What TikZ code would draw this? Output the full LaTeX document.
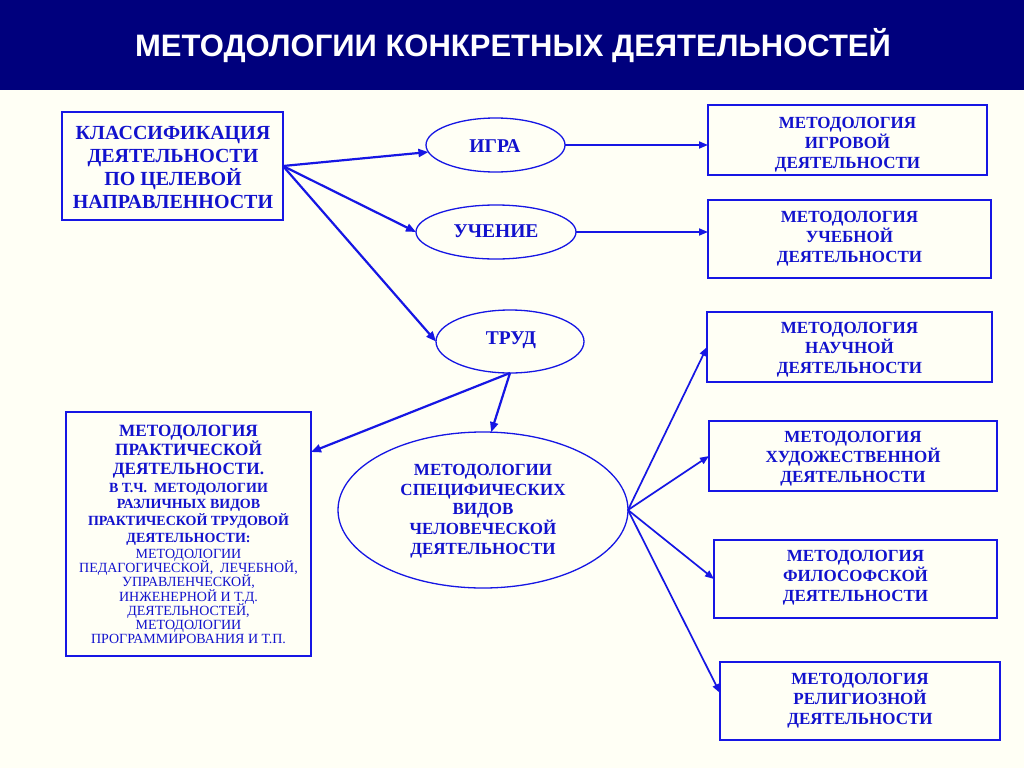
\documentclass[tikz,border=0pt]{standalone}
\usepackage{fontspec}
\setmainfont{Liberation Serif}
\newfontfamily\titlefont{Liberation Sans}
\usetikzlibrary{shapes.geometric,arrows.meta,calc}
\definecolor{bg}{RGB}{255,255,245}
\definecolor{navy}{RGB}{0,0,125}
\definecolor{lineblue}{RGB}{22,22,228}
\definecolor{textblue}{RGB}{18,18,205}
\begin{document}
\lineskiplimit=-100pt
\begin{tikzpicture}[x=1pt,y=-1pt,
  box/.style={draw=lineblue, line width=1.3pt, rectangle, inner sep=0pt, outer sep=0pt},
  oval/.style={draw=lineblue, line width=1.3pt, ellipse, inner sep=0pt, outer sep=0pt},
  lbl/.style={text=textblue, align=center, inner sep=0pt},
  rtxt/.style={lbl, font=\bfseries\fontsize{17}{20}\selectfont},
  otxt/.style={lbl, font=\bfseries\fontsize{19.5}{22}\selectfont},
  arr/.style={draw=lineblue, line width=2.2pt, -{Triangle[length=10pt,width=8pt]}},
  arrt/.style={draw=lineblue, line width=1.7pt, -{Triangle[length=9pt,width=7pt]}}
]
\useasboundingbox (0,0) rectangle (1024,768);
\fill[bg] (0,0) rectangle (1024,768);
\fill[navy] (0,0) rectangle (1024,90);
\node[text=white, font=\titlefont\bfseries\fontsize{31}{31}\selectfont] (title) at (513,46) {МЕТОДОЛОГИИ КОНКРЕТНЫХ ДЕЯТЕЛЬНОСТЕЙ};

% left top box
\node[box, minimum width=221pt, minimum height=108pt] (klass) at (172.5,166) {};
\node[lbl, font=\bfseries\fontsize{20}{23}\selectfont] (klasst) at (173,167)
  {КЛАССИФИКАЦИЯ\\ДЕЯТЕЛЬНОСТИ\\ПО ЦЕЛЕВОЙ\\НАПРАВЛЕННОСТИ};

% ellipses
\node[oval, minimum width=139pt, minimum height=54pt] (igra) at (495.5,145) {};
\node[otxt] (igral) at (495,146) {ИГРА};
\node[oval, minimum width=160pt, minimum height=54pt] (uch) at (496,232) {};
\node[otxt] (uchl) at (496,231) {УЧЕНИЕ};
\node[oval, minimum width=148pt, minimum height=63pt] (trud) at (510,341.5) {};
\node[otxt] (trudl) at (511,340.5) {ТРУД};
\node[oval, minimum width=290pt, minimum height=156pt] (big) at (483,510) {};
\node[lbl, font=\bfseries\fontsize{17}{19.75}\selectfont] (bigt) at (483,511)
  {МЕТОДОЛОГИИ\\СПЕЦИФИЧЕСКИХ\\ВИДОВ\\ЧЕЛОВЕЧЕСКОЙ\\ДЕЯТЕЛЬНОСТИ};

% right boxes
\node[box, minimum width=279pt, minimum height=70pt] (r1) at (847.5,140) {};
\node[rtxt] (r1t) at (847.5,145) {МЕТОДОЛОГИЯ\\ИГРОВОЙ\\ДЕЯТЕЛЬНОСТИ};
\node[box, minimum width=283pt, minimum height=78pt] (r2) at (849.5,239) {};
\node[rtxt] (r2t) at (849.5,239) {МЕТОДОЛОГИЯ\\УЧЕБНОЙ\\ДЕЯТЕЛЬНОСТИ};
\node[box, minimum width=285pt, minimum height=70pt] (r3) at (849.5,347) {};
\node[rtxt] (r3t) at (849.5,350) {МЕТОДОЛОГИЯ\\НАУЧНОЙ\\ДЕЯТЕЛЬНОСТИ};
\node[box, minimum width=288pt, minimum height=70pt] (r4) at (853,456) {};
\node[rtxt] (r4t) at (853,459) {МЕТОДОЛОГИЯ\\ХУДОЖЕСТВЕННОЙ\\ДЕЯТЕЛЬНОСТИ};
\node[box, minimum width=283pt, minimum height=78pt] (r5) at (855.5,579) {};
\node[rtxt] (r5t) at (855.5,578) {МЕТОДОЛОГИЯ\\ФИЛОСОФСКОЙ\\ДЕЯТЕЛЬНОСТИ};
\node[box, minimum width=280pt, minimum height=78pt] (r6) at (860,701) {};
\node[rtxt] (r6t) at (860,701) {МЕТОДОЛОГИЯ\\РЕЛИГИОЗНОЙ\\ДЕЯТЕЛЬНОСТИ};

% left bottom box
\node[box, minimum width=245pt, minimum height=244pt] (prak) at (188.5,534) {};
\node[lbl, font=\bfseries\fontsize{17.2}{19}\selectfont] (prak1) at (188.5,451.5)
  {МЕТОДОЛОГИЯ\\ПРАКТИЧЕСКОЙ\\ДЕЯТЕЛЬНОСТИ.};
\node[lbl, font=\bfseries\fontsize{14}{16.7}\selectfont] (prak2) at (188.5,514)
  {В Т.Ч.\ \ МЕТОДОЛОГИИ\\РАЗЛИЧНЫХ ВИДОВ\\ПРАКТИЧЕСКОЙ ТРУДОВОЙ\\ДЕЯТЕЛЬНОСТИ:};
\node[lbl, font=\fontsize{14}{14.2}\selectfont] (prak3) at (188.5,596.5)
  {МЕТОДОЛОГИИ\\ПЕДАГОГИЧЕСКОЙ,\ \ ЛЕЧЕБНОЙ,\\УПРАВЛЕНЧЕСКОЙ,\\ИНЖЕНЕРНОЙ И Т.Д.\\ДЕЯТЕЛЬНОСТЕЙ,\\МЕТОДОЛОГИИ\\ПРОГРАММИРОВАНИЯ И Т.П.};
\coordinate (praktip) at ($(prak.north east)+(0,40)$);

% arrows
\draw[arr] (klass.east) -- (igra.186);
\draw[arr] (klass.east) -- (uch.west);
\draw[arr] (klass.east) -- (trud.west);
\draw[arrt] (igra.east) -- (igra.east -| r1.west);
\draw[arrt] (uch.east) -- (uch.east -| r2.west);
\draw[arr] (trud.south) -- (praktip);
\draw[arr] (trud.south) -- (big.84);
\draw[arrt] (big.east) -- (r3.west);
\draw[arrt] (big.east) -- (r4.west);
\draw[arrt] (big.east) -- (r5.west);
\draw[arrt] (big.east) -- ($(r6.west)+(0,-8)$);
\end{tikzpicture}
\end{document}
